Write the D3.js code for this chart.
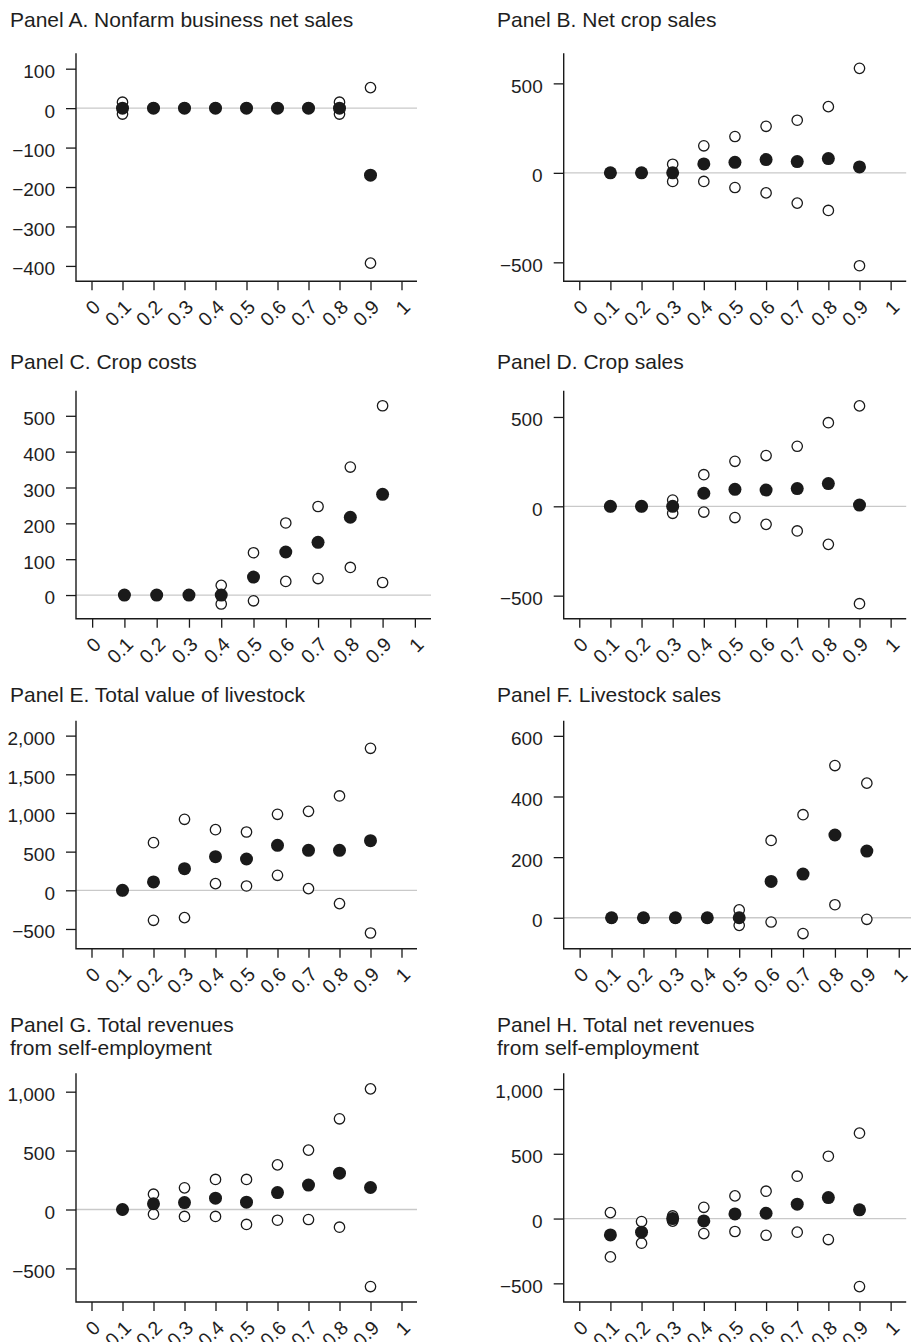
<!DOCTYPE html>
<html>
<head>
<meta charset="utf-8">
<script src="https://cdn.jsdelivr.net/npm/d3@7"></script>
<style>
  html, body { margin: 0; padding: 0; background: #fff; }
  svg { display: block; }
  text { font-family: "Liberation Sans", Arial, Helvetica, sans-serif; fill: #1e1e1e; }
</style>
</head>
<body>
<svg id="chart" width="911" height="1342"></svg>
<script>
// ---------- DATA ----------
const quantiles = [0.1, 0.2, 0.3, 0.4, 0.5, 0.6, 0.7, 0.8, 0.9];
const xTickValues = [0, 0.1, 0.2, 0.3, 0.4, 0.5, 0.6, 0.7, 0.8, 0.9, 1];
const xTickLabels = ["0", "0.1", "0.2", "0.3", "0.4", "0.5", "0.6", "0.7", "0.8", "0.9", "1"];

// Panel A. Nonfarm business net sales
const aEstimate = [0, 0, 0, 0, 0, 0, 0, 0, -170];
const aUpper    = [15, 0, 0, 0, 0, 0, 0, 15, 52];
const aLower    = [-15, 0, 0, 0, 0, 0, 0, -15, -393];
const aTicks    = [-400, -300, -200, -100, 0, 100];
const aDomain   = [-439, 139];

// Panel B. Net crop sales
const bEstimate = [0, 0, 0, 50, 59, 74, 63, 80, 33];
const bUpper    = [0, 0, 48, 151, 203, 260, 294, 370, 584];
const bLower    = [0, 0, -48, -48, -82, -112, -169, -210, -519];
const bTicks    = [-500, 0, 500];
const bDomain   = [-606, 668];

// Panel C. Crop costs
const cEstimate = [0, 0, 0, 0, 50, 120, 147, 217, 281];
const cUpper    = [0, 0, 0, 27, 118, 201, 247, 357, 528];
const cLower    = [0, 0, 0, -25, -16, 38, 46, 77, 35];
const cTicks    = [0, 100, 200, 300, 400, 500];
const cDomain   = [-66, 570];

// Panel D. Crop sales
const dEstimate = [0, 0, 0, 73, 95, 91, 99, 127, 7];
const dUpper    = [0, 0, 35, 177, 252, 284, 336, 468, 562];
const dLower    = [0, 0, -39, -32, -63, -101, -138, -213, -545];
const dTicks    = [-500, 0, 500];
const dDomain   = [-629, 647];

// Panel E. Total value of livestock
const eEstimate = [0, 108, 280, 435, 405, 582, 517, 517, 642];
const eUpper    = [0, 616, 918, 784, 754, 983, 1021, 1220, 1836];
const eLower    = [0, -388, -353, 86, 56, 194, 22, -172, -552];
const eTicks    = [-500, 0, 500, 1000, 1500, 2000];
const eDomain   = [-755, 2193];

// Panel F. Livestock sales
const fEstimate = [0, 0, 0, 0, 0, 120, 144, 273, 220];
const fUpper    = [0, 0, 0, 0, 26, 255, 340, 502, 444];
const fLower    = [0, 0, 0, 0, -25, -14, -52, 43, -5];
const fTicks    = [0, 200, 400, 600];
const fDomain   = [-102, 650];

// Panel G. Total revenues from self-employment
const gEstimate = [0, 48, 59, 96, 62, 144, 207, 308, 187];
const gUpper    = [0, 130, 184, 255, 255, 379, 504, 770, 1024];
const gLower    = [0, -40, -59, -59, -127, -91, -85, -150, -654];
const gTicks    = [-500, 0, 500, 1000];
const gDomain   = [-785, 1156];

// Panel H. Total net revenues from self-employment
const hEstimate = [-126, -105, 0, -18, 36, 41, 111, 162, 67];
const hUpper    = [46, -23, 20, 87, 175, 211, 327, 481, 659];
const hLower    = [-296, -190, -20, -116, -100, -129, -105, -162, -525];
const hTicks    = [-500, 0, 500, 1000];
const hDomain   = [-644, 1121];

const titles = {
  A: ["Panel A. Nonfarm business net sales"],
  B: ["Panel B. Net crop sales"],
  C: ["Panel C. Crop costs"],
  D: ["Panel D. Crop sales"],
  E: ["Panel E. Total value of livestock"],
  F: ["Panel F. Livestock sales"],
  G: ["Panel G. Total revenues", "from self-employment"],
  H: ["Panel H. Total net revenues", "from self-employment"]
};

// ---------- LAYOUT ----------
const svg = d3.select("#chart");
const INK = "#1a1a1a";
const fmt = d3.format(",");

const panels = [
  {key: "A", est: aEstimate, up: aUpper, lo: aLower, ticks: aTicks, dom: aDomain,
   left: 76, width: 341, top: 53.3, bottom: 281.3, tx: 10, ty: 27},
  {key: "B", est: bEstimate, up: bUpper, lo: bLower, ticks: bTicks, dom: bDomain,
   left: 563.7, width: 342.5, top: 53.3, bottom: 281.3, tx: 497, ty: 27},
  {key: "C", est: cEstimate, up: cUpper, lo: cLower, ticks: cTicks, dom: cDomain,
   left: 76, width: 355, top: 390.7, bottom: 618.7, tx: 10, ty: 369},
  {key: "D", est: dEstimate, up: dUpper, lo: dLower, ticks: dTicks, dom: dDomain,
   left: 563.7, width: 342.5, top: 390.7, bottom: 618.7, tx: 497, ty: 369},
  {key: "E", est: eEstimate, up: eUpper, lo: eLower, ticks: eTicks, dom: eDomain,
   left: 76, width: 341, top: 720.7, bottom: 948.7, tx: 10, ty: 702},
  {key: "F", est: fEstimate, up: fUpper, lo: fLower, ticks: fTicks, dom: fDomain,
   left: 563.7, width: 351, top: 720.7, bottom: 948.7, tx: 497, ty: 702},
  {key: "G", est: gEstimate, up: gUpper, lo: gLower, ticks: gTicks, dom: gDomain,
   left: 76, width: 341, top: 1073.3, bottom: 1302, tx: 10, ty: 1032},
  {key: "H", est: hEstimate, up: hUpper, lo: hLower, ticks: hTicks, dom: hDomain,
   left: 563.7, width: 342.5, top: 1073.3, bottom: 1302, tx: 497, ty: 1032}
];

panels.forEach(p => {
  const g = svg.append("g");
  const x = d3.scaleLinear().domain([-0.05, 1.05]).range([p.left, p.left + p.width]);
  const y = d3.scaleLinear().domain(p.dom).range([p.bottom, p.top]);

  // title
  const t = g.append("text").attr("x", p.tx).attr("y", p.ty)
    .style("font-size", "21px");
  titles[p.key].forEach((line, i) => {
    t.append("tspan").attr("x", p.tx).attr("dy", i === 0 ? 0 : 23).text(line);
  });

  // zero reference line
  g.append("line")
    .attr("x1", x.range()[0]).attr("x2", x.range()[1])
    .attr("y1", y(0)).attr("y2", y(0))
    .attr("stroke", "#c9c9c9").attr("stroke-width", 1.3);

  // y axis
  const ya = g.append("g").attr("transform", `translate(${p.left},0)`)
    .call(d3.axisLeft(y).tickValues(p.ticks).tickFormat(fmt).tickSize(10).tickSizeOuter(0).tickPadding(11));
  ya.select(".domain").remove();
  ya.selectAll(".tick line").attr("stroke", INK).attr("stroke-width", 1.3);
  ya.selectAll(".tick text").style("font-size", "19px").attr("dy", "0.47em")
    .attr("fill", "#1e1e1e").style("font-family", "'Liberation Sans', Arial, sans-serif");

  // x axis
  const xa = g.append("g").attr("transform", `translate(0,${p.bottom})`)
    .call(d3.axisBottom(x).tickValues(xTickValues).tickFormat((d, i) => xTickLabels[i]).tickSize(9).tickSizeOuter(0));
  xa.select(".domain").remove();
  xa.selectAll(".tick line").attr("stroke", INK).attr("stroke-width", 1.3);
  xa.selectAll(".tick text")
    .attr("x", 0).attr("y", 0).attr("dy", 0)
    .attr("text-anchor", "end")
    .attr("transform", "translate(9.5,27) rotate(-45)")
    .style("font-size", "19.5px").attr("fill", "#1e1e1e")
    .style("font-family", "'Liberation Sans', Arial, sans-serif");

  // axis lines (L-shaped frame)
  g.append("path")
    .attr("d", `M${p.left},${p.top}V${p.bottom}H${p.left + p.width}`)
    .attr("fill", "none").attr("stroke", INK).attr("stroke-width", 1.4);

  // hollow bounds
  const bounds = quantiles.map((q, i) => ({q, v: p.up[i]}))
    .concat(quantiles.map((q, i) => ({q, v: p.lo[i]})));
  g.selectAll("circle.bound").data(bounds).enter().append("circle")
    .attr("class", "bound")
    .attr("cx", d => x(d.q)).attr("cy", d => y(d.v)).attr("r", 5.2)
    .attr("fill", "#fff").attr("stroke", INK).attr("stroke-width", 1.3);

  // filled estimates
  g.selectAll("circle.est").data(quantiles.map((q, i) => ({q, v: p.est[i]}))).enter().append("circle")
    .attr("class", "est")
    .attr("cx", d => x(d.q)).attr("cy", d => y(d.v)).attr("r", 6.5)
    .attr("fill", INK);
});
</script>
</body>
</html>
